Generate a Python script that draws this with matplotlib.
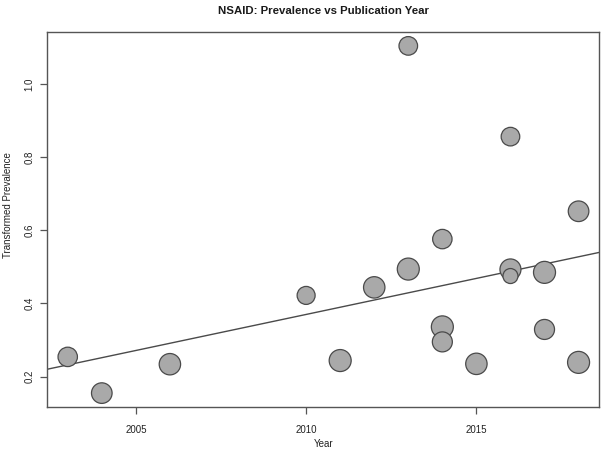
import matplotlib
matplotlib.use("Agg")
import matplotlib.pyplot as plt
import numpy as np

plt.rcParams['font.family'] = ['Liberation Sans', 'DejaVu Sans']

# Data
years = [2003, 2004, 2006, 2010, 2011, 2012, 2013, 2013, 2014, 2014, 2014,
         2015, 2016, 2016, 2016, 2017, 2017, 2018, 2018]
prevalence = [0.254, 0.155, 0.234, 0.422, 0.244, 0.444, 1.104, 0.494, 0.576,
              0.336, 0.295, 0.235, 0.856, 0.493, 0.475, 0.485, 0.329, 0.652, 0.239]
weights = [9.7, 10.3, 10.7, 9.0, 11.0, 10.7, 9.3, 11.0, 9.7,
           11.0, 10.0, 10.7, 9.3, 10.5, 7.5, 11.0, 10.0, 10.3, 11.0]
fit_at_2010 = 0.370
fit_slope = 0.0197
xticks = [2005, 2010, 2015]
yticks = [0.2, 0.4, 0.6, 0.8, 1.0]

W, H = 604, 455
fig = plt.figure(figsize=(W / 100, H / 100), dpi=100)
ax_l, ax_r, ax_t, ax_b = 47.3, 599.0, 32.0, 407.0
ax = fig.add_axes([ax_l / W, 1 - ax_b / H, (ax_r - ax_l) / W, (ax_b - ax_t) / H])

sizes = [(2 * w * 0.72) ** 2 for w in weights]
ax.scatter(years, prevalence, s=sizes, facecolor='#a9a9a9', edgecolor='#4a4a4a',
           linewidth=0.9, zorder=3)

ax.axline((2010, fit_at_2010), slope=fit_slope, color='#4a4a4a', linewidth=1.0, zorder=2)

xmin, xmax = min(years), max(years)
ymin, ymax = min(prevalence), max(prevalence)
xr, yr = xmax - xmin, ymax - ymin
ax.set_xlim(xmin - 0.04 * xr, xmax + 0.04 * xr)
ax.set_ylim(ymin - 0.04 * yr, ymax + 0.04 * yr)

ax.set_xticks(xticks)
ax.set_xticklabels([str(t) for t in xticks])
ax.set_yticks(yticks)
ax.set_yticklabels([f"{t:.1f}" for t in yticks], rotation=90, va='center')

for sp in ax.spines.values():
    sp.set_color('#555555')
    sp.set_linewidth(1.0)

ax.tick_params(axis='both', direction='out', length=5, width=0.9, color='#555555',
               labelsize=7, labelcolor='#222222')
ax.tick_params(axis='x', pad=8)
ax.tick_params(axis='y', pad=4)

cx = (ax_l + ax_r) / 2 / W
fig.text(cx, 1 - 444 / H, 'Year', ha='center', va='center', fontsize=7, color='#222222')
fig.text(8.5 / W, 1 - 205 / H, 'Transformed Prevalence', ha='center', va='center',
         rotation=90, fontsize=7, color='#222222')
fig.text(cx, 1 - 10.8 / H, 'NSAID: Prevalence vs Publication Year', ha='center',
         va='center', fontsize=8.2, fontweight='bold', color='#1a1a1a')

fig.savefig('out.png', dpi=100)
